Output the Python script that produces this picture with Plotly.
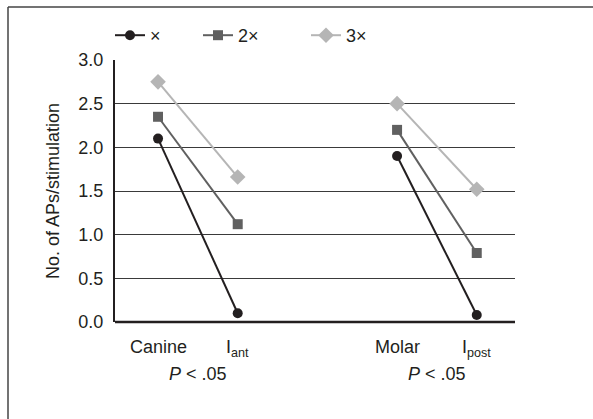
import plotly.graph_objects as go

# ---- data ----
categories = ["Canine", "I<sub>ant</sub>", "Molar", "I<sub>post</sub>"]
cat_pos = [0, 1, 3, 4]
series_names = ["\u00d7", "2\u00d7", "3\u00d7"]
s1 = [2.10, 0.10, 1.90, 0.08]
s2 = [2.35, 1.12, 2.20, 0.79]
s3 = [2.75, 1.66, 2.50, 1.52]
y_ticks = [0.0, 0.5, 1.0, 1.5, 2.0, 2.5, 3.0]
y_ticktext = ["0.0", "0.5", "1.0", "1.5", "2.0", "2.5", "3.0"]
p_labels = ["<i>P</i> &lt; .05", "<i>P</i> &lt; .05"]
p_pos = [0.5, 3.5]

FONT = "Liberation Sans"
TXT = "#231f20"
colors = ["#231f20", "#606060", "#b5b5b5"]
symbols = ["circle", "square", "diamond"]
msizes = [10, 10, 12]
series = [s1, s2, s3]
legends = ["legend", "legend2", "legend3"]

fig = go.Figure()
for i, (name, vals) in enumerate(zip(series_names, series)):
    xs = cat_pos[:2] + [None] + cat_pos[2:]
    ys = vals[:2] + [None] + vals[2:]
    fig.add_trace(go.Scatter(
        x=xs, y=ys, name=name, mode="lines+markers",
        line=dict(color=colors[i], width=2),
        marker=dict(symbol=symbols[i], size=msizes[i], color=colors[i]),
        connectgaps=False, legend=legends[i], showlegend=True,
    ))

W, H = 593, 419
L, R, T, B = 115, 78, 60, 97
PW, PH = W - L - R, H - T - B

annotations = []
for c, xp in zip(categories, cat_pos):
    annotations.append(dict(x=xp, y=0, xref="x", yref="paper", text=c,
                            showarrow=False, yanchor="top", yshift=-13,
                            font=dict(family=FONT, size=18, color=TXT)))
for t, xp in zip(p_labels, p_pos):
    annotations.append(dict(x=xp, y=0, xref="x", yref="paper", text=t,
                            showarrow=False, yanchor="top", yshift=-40,
                            font=dict(family=FONT, size=18, color=TXT)))

leg_x = [110, 198, 306]
leg_layout = {}
for lg, lx in zip(legends, leg_x):
    leg_layout[lg] = dict(orientation="h", yref="container", xref="container",
                          x=lx / W, y=1 - 17 / H, yanchor="top", xanchor="left",
                          font=dict(family=FONT, size=18, color=TXT),
                          bgcolor="rgba(0,0,0,0)", itemwidth=30)

fx = -(L - 8) / PW
fy = 1 + (T - 7) / PH
fig.update_layout(
    width=W, height=H,
    margin=dict(l=L, r=R, t=T, b=B, autoexpand=False),
    paper_bgcolor="white", plot_bgcolor="white",
    font=dict(family=FONT, size=18, color=TXT),
    annotations=annotations,
    shapes=[
        dict(type="line", xref="paper", yref="paper",
             x0=fx, x1=(W - L) / PW, y0=fy, y1=fy,
             line=dict(color="#444444", width=1.5)),
        dict(type="line", xref="paper", yref="paper",
             x0=fx, x1=fx, y0=fy, y1=-B / PH,
             line=dict(color="#444444", width=1.5)),
        dict(type="line", xref="paper", yref="paper", x0=0, x1=1, y0=0, y1=0,
             line=dict(color=TXT, width=2.5)),
    ],
    **leg_layout,
)
fig.update_xaxes(range=[-0.54, 4.48], showticklabels=False, showgrid=False,
                 zeroline=False, showline=False, ticks="", automargin=False)
fig.update_yaxes(range=[0, 3], tickvals=y_ticks, ticktext=y_ticktext,
                 showgrid=True, gridcolor="#3a3a3a", gridwidth=1,
                 zeroline=False, showline=True, linecolor=TXT, linewidth=2,
                 ticks="", ticklabelstandoff=6, automargin=False,
                 tickfont=dict(family=FONT, size=18),
                 title=dict(text="No. of APs/stimulation",
                            font=dict(family=FONT, size=18), standoff=14))

fig.write_html("out.html", config={"displayModeBar": False},
               post_script="document.body.style.margin='0';document.body.style.overflow='hidden';")
